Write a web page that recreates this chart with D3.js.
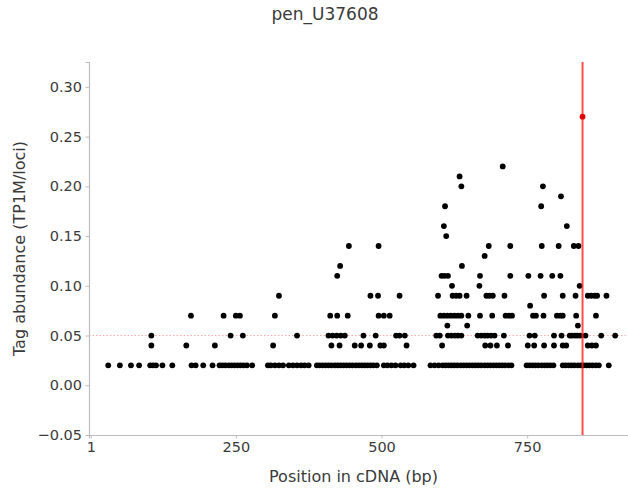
<!DOCTYPE html>
<html>
<head>
<meta charset="utf-8">
<script src="https://cdn.jsdelivr.net/npm/d3@7"></script>
<style>
  html, body { margin: 0; padding: 0; background: #fff; }
  svg { display: block; font-family: "DejaVu Sans", sans-serif; }
</style>
</head>
<body>
<svg id="chart" width="628" height="489"></svg>
<script>
// ---- data (position in cDNA, bp ; tag abundance, TP1M/loci) ----
const title = "pen_U37608";
const xLabel = "Position in cDNA (bp)";
const yLabel = "Tag abundance (TP1M/loci)";
const xTicks = [1, 250, 500, 750];
const yTicks = [-0.05, 0.00, 0.05, 0.10, 0.15, 0.20, 0.25, 0.30];
const thresholdValue = 0.05;
const markerPos = 845;
const markerValue = 0.27;

const pos002 = [31, 51, 70, 84, 103, 108, 113, 124, 141, 174, 181, 194, 210,
  222, 227, 232, 238, 243, 248, 253, 258, 263, 269, 278, 305, 310, 317, 324, 331,
  341, 348, 355, 362, 368, 375, 389, 394, 399, 404, 409, 414, 420, 425, 430, 435,
  440, 445, 450, 456, 461, 466, 471, 476, 481, 486, 492, 504, 510, 517, 524,
  533, 539, 546, 555, 584, 591, 598, 605, 610, 615, 620, 625, 630, 636, 641, 646,
  651, 656, 661, 666, 671, 677, 682, 687, 692, 697, 702, 707, 712, 718, 723,
  749, 754, 759, 764, 769, 775, 780, 785, 790, 795, 811, 816, 821, 826, 831,
  837, 842, 847, 852, 857, 862, 868, 873, 890];
const pos004 = [105, 165, 214, 314, 414, 428, 454, 465, 480, 498, 504, 543, 604,
  678, 687, 698, 717, 751, 762, 779, 796, 811, 817, 854, 861, 868];
const pos005 = [105, 241, 262, 355, 409, 416, 423, 430, 437, 469, 490, 525, 531,
  540, 594, 600, 614, 620, 626, 631, 637, 665, 671, 677, 682, 688, 694, 710,
  754, 763, 796, 809, 823, 827, 832, 836, 841, 850, 877, 901];
const pos006 = [613, 647, 837];
const pos007 = [173, 229, 250, 257, 317, 412, 424, 442, 495, 504, 514, 601, 607,
  613, 619, 625, 631, 637, 649, 669, 690, 713, 719, 724, 760, 765, 778, 801, 807,
  811, 834, 868];
const pos008 = [755];
const pos009 = [324, 481, 494, 531, 597, 622, 628, 634, 646, 680, 685, 691, 711,
  779, 811, 833, 854, 860, 866, 870, 886];
const pos010 = [621, 668, 840];
const pos011 = [424, 603, 608, 614, 669, 721, 752, 773, 793, 807];
const pos012 = [429, 638];
const pos013 = [677];
const pos014 = [444, 495, 684, 721, 775, 804, 830, 838];
const pos015 = [611];
const pos016 = [607, 818];
const pos018 = [609, 774];
const pos019 = [808];
const pos020 = [637, 777];
const pos021 = [634];
const pos022 = [708];

const rows = [
  [0.02, pos002], [0.04, pos004], [0.05, pos005], [0.06, pos006], [0.07, pos007],
  [0.08, pos008], [0.09, pos009], [0.10, pos010], [0.11, pos011], [0.12, pos012],
  [0.13, pos013], [0.14, pos014], [0.15, pos015], [0.16, pos016], [0.18, pos018],
  [0.19, pos019], [0.20, pos020], [0.21, pos021], [0.22, pos022]
];
const points = [];
rows.forEach(([v, arr]) => arr.forEach(p => points.push({x: p, y: v})));

// ---- layout ----
const svg = d3.select("#chart");
const mLeft = 89, mRight = 628, mTop = 62, mBottom = 435;

const x = d3.scaleLinear().domain([-2, 923]).range([mLeft, mRight]);
const y = d3.scaleLinear().domain([-0.05, 0.325]).range([mBottom, mTop]);

const axisColor = "#bdbdbd";
const textColor = "#3a3a3a";

// threshold line
svg.append("line")
  .attr("x1", mLeft).attr("x2", mRight)
  .attr("y1", y(thresholdValue)).attr("y2", y(thresholdValue))
  .attr("stroke", "#ff6b6b").attr("stroke-opacity", 0.6)
  .attr("stroke-width", 1).attr("stroke-dasharray", "1.5,2");

// points
svg.append("g").selectAll("circle").data(points).join("circle")
  .attr("cx", d => x(d.x)).attr("cy", d => y(d.y))
  .attr("r", 2.9).attr("fill", "#000");

// marker line + point
svg.append("line")
  .attr("x1", x(markerPos)).attr("x2", x(markerPos))
  .attr("y1", mTop).attr("y2", mBottom)
  .attr("stroke", "#ff2020").attr("stroke-opacity", 0.8).attr("stroke-width", 2);
svg.append("circle")
  .attr("cx", x(markerPos)).attr("cy", y(markerValue))
  .attr("r", 2.9).attr("fill", "#e00000");

// axes
const fmtY = v => d3.format(".2f")(v).replace("-", "\u2212");
const yAxis = svg.append("g").attr("transform", `translate(${mLeft},0)`)
  .call(d3.axisLeft(y).tickValues(yTicks).tickFormat(fmtY).tickSize(3.5).tickPadding(3.5));
const xAxis = svg.append("g").attr("transform", `translate(0,${mBottom})`)
  .call(d3.axisBottom(x).tickValues(xTicks).tickFormat(d3.format("d")).tickSize(3.5).tickPadding(3.5));

[xAxis, yAxis].forEach(g => {
  g.select(".domain").attr("stroke", axisColor).attr("stroke-width", 1.2);
  g.selectAll(".tick line").attr("stroke", axisColor);
  g.selectAll(".tick text").attr("fill", textColor)
    .style("font-family", "DejaVu Sans").style("font-size", "14.5px");
});

// labels
svg.append("text").attr("x", (mLeft + mRight) / 2 - 5).attr("y", 482)
  .attr("text-anchor", "middle").attr("fill", textColor)
  .style("font-size", "16px").text(xLabel);
svg.append("text")
  .attr("transform", `translate(25,${(mTop + mBottom) / 2}) rotate(-90)`)
  .attr("text-anchor", "middle").attr("fill", textColor)
  .style("font-size", "16px").text(yLabel);
svg.append("text").attr("x", 325).attr("y", 20)
  .attr("text-anchor", "middle").attr("fill", textColor)
  .style("font-size", "17px").text(title);
</script>
</body>
</html>
